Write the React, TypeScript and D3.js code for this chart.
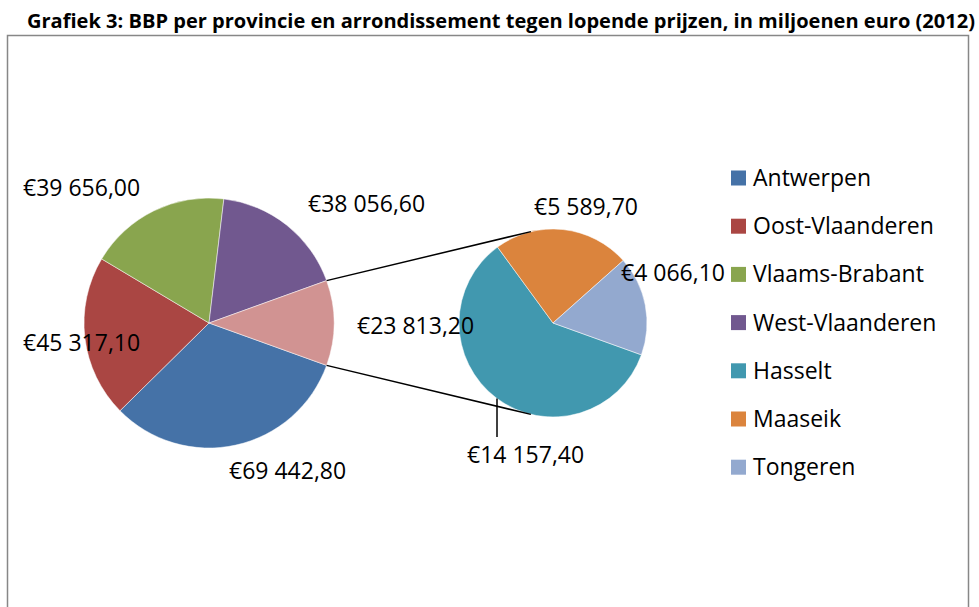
import React, { useEffect, useRef } from 'react';
import * as d3 from 'd3';

// main pie: provinces (+ Limburg as "other")
const provinces = ['Antwerpen', 'Oost-Vlaanderen', 'Vlaams-Brabant', 'West-Vlaanderen'];
const provinceValues = [69442.8, 45317.1, 39656.0, 38056.6];
// secondary pie: arrondissementen of Limburg
const arrondissementen = ['Hasselt', 'Maaseik', 'Tongeren'];
const arrondissementValues = [14157.4, 5589.7, 4066.1];

const legendNames = [...provinces, ...arrondissementen];
const colors = ['#4572A7', '#AA4643', '#89A54E', '#71588F', '#4198AF', '#DB843D', '#93A9CF'];
const otherColor = '#D19392';

const fmt = (v: number) => {
  const [int, dec] = v.toFixed(2).split('.');
  return '€' + int.replace(/\B(?=(\d{3})+(?!\d))/g, ' ') + ',' + dec;
};

const W = 979;
const H = 607;

const App = () => {
  const ref = useRef<SVGSVGElement>(null);

  useEffect(() => {
    const svg = d3.select(ref.current);
    svg.selectAll('*').remove();

    const font = '"Open Sans", sans-serif';

    // frame
    svg.append('rect')
      .attr('x', 7.5).attr('y', 35.5)
      .attr('width', 961).attr('height', 600)
      .attr('fill', 'none').attr('stroke', '#878787').attr('stroke-width', 1.5);

    // title
    svg.append('text')
      .attr('x', 27).attr('y', 28)
      .attr('font-family', font).attr('font-weight', 700).attr('font-size', 19)
      .attr('textLength', 948).attr('lengthAdjust', 'spacingAndGlyphs')
      .text('Grafiek 3: BBP per provincie en arrondissement tegen lopende prijzen, in miljoenen euro (2012)');

    const otherTotal = d3.sum(arrondissementValues);
    const total = d3.sum(provinceValues) + otherTotal;
    const otherAngle = (otherTotal / total) * 2 * Math.PI;
    const start = Math.PI / 2 + otherAngle / 2;

    const main = { cx: 209, cy: 323, r: 125 };
    const sec = { cx: 553, cy: 323, r: 94 };

    const mainData = [...provinceValues, otherTotal];
    const mainArcs = d3.pie<number>().sort(null)
      .startAngle(start).endAngle(start + 2 * Math.PI)(mainData);
    const secArcs = d3.pie<number>().sort(null)
      .startAngle(start).endAngle(start + 2 * Math.PI)(arrondissementValues);

    const arcMain = d3.arc<d3.PieArcDatum<number>>().innerRadius(0).outerRadius(main.r);
    const arcSec = d3.arc<d3.PieArcDatum<number>>().innerRadius(0).outerRadius(sec.r);

    const gMain = svg.append('g').attr('transform', `translate(${main.cx},${main.cy})`);
    gMain.selectAll('path').data(mainArcs).enter().append('path')
      .attr('d', arcMain)
      .attr('fill', (d, i) => (i < provinces.length ? colors[i] : otherColor))
      .attr('stroke', '#fff').attr('stroke-width', 0.5);

    const gSec = svg.append('g').attr('transform', `translate(${sec.cx},${sec.cy})`);
    gSec.selectAll('path').data(secArcs).enter().append('path')
      .attr('d', arcSec)
      .attr('fill', (d, i) => colors[provinces.length + i])
      .attr('stroke', '#fff').attr('stroke-width', 0.5);

    // connector lines
    const pt = (c: { cx: number; cy: number; r: number }, a: number) =>
      [c.cx + c.r * Math.sin(a), c.cy - c.r * Math.cos(a)];
    const oth = mainArcs[mainArcs.length - 1];
    const tilt = (13.6 * Math.PI) / 180;
    const conn = [
      [pt(main, oth.startAngle), pt(sec, -tilt)],
      [pt(main, oth.endAngle), pt(sec, Math.PI + tilt)],
    ];
    conn.forEach(([a, b]) => {
      svg.append('line')
        .attr('x1', a[0]).attr('y1', a[1]).attr('x2', b[0]).attr('y2', b[1])
        .attr('stroke', '#000').attr('stroke-width', 1.5);
    });

    // data labels (left x, baseline y)
    const labelPos = [
      [229, 479], [23, 351], [23, 196], [308, 212], [357, 334],
      [467, 463], [534, 215], [621, 281],
    ];
    const labelValues = [...provinceValues, otherTotal, ...arrondissementValues];
    svg.append('g').selectAll('text').data(labelValues).enter().append('text')
      .attr('x', (d, i) => labelPos[i][0]).attr('y', (d, i) => labelPos[i][1])
      .attr('font-family', font).attr('font-size', 23).attr('fill', '#000')
      .text(d => fmt(d));

    // leader line for Hasselt
    const lx = 497;
    const ly = sec.cy + Math.sqrt(sec.r * sec.r - (lx - sec.cx) ** 2);
    svg.append('line')
      .attr('x1', lx).attr('y1', ly).attr('x2', lx).attr('y2', 437)
      .attr('stroke', '#000').attr('stroke-width', 1.5);

    // legend
    const lg = svg.append('g').attr('transform', 'translate(731,178)');
    legendNames.forEach((name, i) => {
      const row = lg.append('g').attr('transform', `translate(0,${i * 48.2})`);
      row.append('rect').attr('x', 0).attr('y', -7.5).attr('width', 15).attr('height', 15)
        .attr('fill', colors[i]);
      row.append('text').attr('x', 22).attr('y', 8)
        .attr('font-family', font).attr('font-size', 23).attr('fill', '#000')
        .text(name);
    });
  }, []);

  return (
    <svg ref={ref} width={W} height={H}
      style={{ position: 'absolute', left: 0, top: 0, background: '#fff' }} />
  );
};

export default App;
